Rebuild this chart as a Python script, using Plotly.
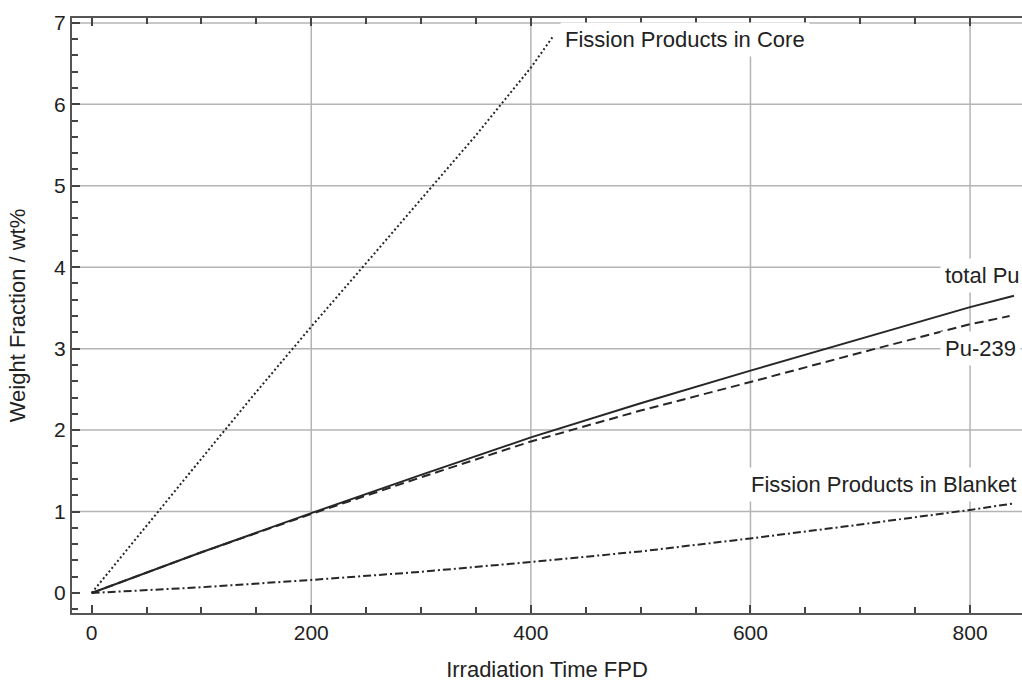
import plotly.graph_objects as go

# ---- data ----
t_core = [0, 50, 100, 150, 200, 250, 300, 350, 400, 420]
fp_core = [0, 0.83, 1.65, 2.47, 3.27, 4.05, 4.83, 5.62, 6.45, 6.83]

t_pu = [0, 100, 200, 300, 400, 500, 600, 700, 800, 840]
pu_total = [0, 0.50, 0.98, 1.45, 1.91, 2.33, 2.73, 3.12, 3.51, 3.65]

t_pu239 = [0, 100, 200, 300, 400, 500, 600, 700, 800, 836]
pu239 = [0, 0.50, 0.97, 1.42, 1.86, 2.24, 2.59, 2.95, 3.30, 3.40]

t_blanket = [0, 100, 200, 300, 400, 500, 600, 700, 800, 840]
fp_blanket = [0, 0.07, 0.16, 0.26, 0.38, 0.51, 0.67, 0.84, 1.02, 1.10]

x_grid = [200, 400, 600, 800]
y_grid = [1, 2, 3, 4, 5, 6, 7]
x_ticks = [0, 200, 400, 600, 800]
y_ticks = [0, 1, 2, 3, 4, 5, 6, 7]

labels = [
    ("Fission Products in Core", 426.4, 6.79),
    ("total Pu", 772.6, 3.90),
    ("Pu-239", 772.6, 3.00),
    ("Fission Products in Blanket", 595.9, 1.33),
]

FONT = "Liberation Sans, Arial, sans-serif"
LC = "#262626"

fig = go.Figure()
fig.add_trace(go.Scatter(x=t_core, y=fp_core, mode="lines",
                         line=dict(color=LC, width=2, dash="2px,2.5px")))
fig.add_trace(go.Scatter(x=t_pu, y=pu_total, mode="lines",
                         line=dict(color=LC, width=2)))
fig.add_trace(go.Scatter(x=t_pu239, y=pu239, mode="lines",
                         line=dict(color=LC, width=2, dash="9px,5px")))
fig.add_trace(go.Scatter(x=t_blanket, y=fp_blanket, mode="lines",
                         line=dict(color=LC, width=2, dash="8px,3px,2px,3px")))

shapes = []
for gx in x_grid:
    shapes.append(dict(type="line", xref="x", yref="paper", x0=gx, x1=gx, y0=0, y1=1,
                       line=dict(color="#b4b4b4", width=1.5), layer="below"))
for gy in y_grid:
    shapes.append(dict(type="line", xref="paper", yref="y", x0=0, x1=1, y0=gy, y1=gy,
                       line=dict(color="#b4b4b4", width=1.5), layer="below"))

annotations = []
for txt, ax_, ay_ in labels:
    annotations.append(dict(text=txt, x=ax_, y=ay_, xref="x", yref="y",
                            xanchor="left", yanchor="middle", showarrow=False,
                            bgcolor="white", borderpad=4,
                            font=dict(family=FONT, size=22, color="#222")))

fig.update_layout(
    width=1022, height=682,
    margin=dict(l=72, r=0, t=18, b=69),
    paper_bgcolor="white", plot_bgcolor="white",
    showlegend=False,
    shapes=shapes, annotations=annotations,
    font=dict(family=FONT, size=21, color="#222"),
)
fig.update_xaxes(
    range=[-17.9, 847.3], tickvals=x_ticks, showgrid=False, zeroline=False,
    automargin=False,
    showline=True, linecolor="#555", linewidth=2, mirror="allticks",
    ticks="inside", ticklen=8, tickwidth=1.5, tickcolor="#444",
    minor=dict(dtick=50, tick0=0, ticks="inside", ticklen=6, tickwidth=1.5, tickcolor="#444"),
    tickfont=dict(family=FONT, size=21, color="#222"),
    title=dict(text="Irradiation Time FPD", font=dict(family=FONT, size=22, color="#222"), standoff=33),
)
fig.update_yaxes(
    range=[-0.246, 7.06], tickvals=y_ticks, showgrid=False, zeroline=False,
    automargin=False,
    showline=True, linecolor="#555", linewidth=2,
    ticks="inside", ticklen=8, tickwidth=1.5, tickcolor="#444",
    minor=dict(dtick=0.2, tick0=0, ticks="inside", ticklen=6, tickwidth=1.5, tickcolor="#444"),
    tickfont=dict(family=FONT, size=21, color="#222"),
    title=dict(text="Weight Fraction / wt%", font=dict(family=FONT, size=22, color="#222"), standoff=22),
)

fig.write_html("out.html")
